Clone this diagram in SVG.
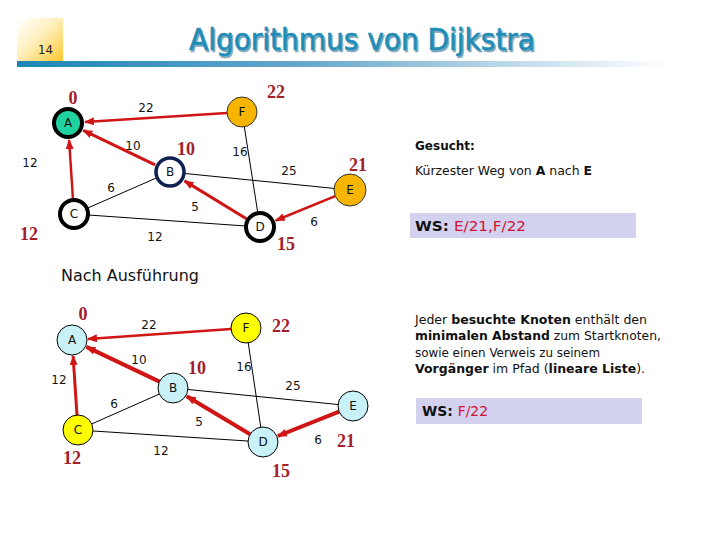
<svg xmlns="http://www.w3.org/2000/svg" width="720" height="540" viewBox="0 0 720 540">
<defs>
<linearGradient id="pg" x1="0" y1="0" x2="1" y2="1">
<stop offset="0" stop-color="#ffffff"/>
<stop offset="0.45" stop-color="#fff0c0"/>
<stop offset="1" stop-color="#ffc830"/>
</linearGradient>
<linearGradient id="bar" x1="0" y1="0" x2="1" y2="0">
<stop offset="0" stop-color="#1a86b4"/>
<stop offset="0.45" stop-color="#6aa8cc"/>
<stop offset="1" stop-color="#ffffff"/>
</linearGradient>
<marker id="ah" markerUnits="userSpaceOnUse" markerWidth="10" markerHeight="8" refX="9" refY="4" orient="auto">
<path d="M0,0 L10,4 L0,8 z" fill="#d01515"/>
</marker>
<style>
.ttl{font-family:"DejaVu Sans Condensed","DejaVu Sans",sans-serif;font-size:30px;fill:#1f8db8;stroke:#1f8db8;stroke-width:0.5}
.lbl{font-family:"DejaVu Sans",sans-serif;font-size:12px;fill:#111;text-anchor:middle}
.nl{font-family:"DejaVu Sans",sans-serif;font-size:12px;fill:#111;text-anchor:middle}
.dist{font-family:"Liberation Serif",serif;font-weight:bold;font-size:18px;fill:#a3202a;text-anchor:middle}
.txt{font-family:"DejaVu Sans",sans-serif;font-size:12px;fill:#111}
.b{font-weight:bold}
.red{fill:#d11034}
.blk{stroke:#000;stroke-width:1;fill:none}
.arr{stroke:#d01515;fill:none;marker-end:url(#ah)}
</style>
</defs>
<rect width="720" height="540" fill="#fff"/>
<rect x="17" y="18" width="46" height="43" fill="url(#pg)"/>
<text x="38" y="54" style="font-family:'DejaVu Sans Condensed','DejaVu Sans',sans-serif;font-size:13px;fill:#222">14</text>
<rect x="17" y="61" width="650" height="6" fill="url(#bar)"/>
<text class="ttl" x="190.5" y="51.5" textLength="346" lengthAdjust="spacingAndGlyphs" style="fill:#7fa9bb;stroke:#7fa9bb">Algorithmus von Dijkstra</text>
<text class="ttl" x="189" y="50" textLength="346" lengthAdjust="spacingAndGlyphs">Algorithmus von Dijkstra</text>

<g id="connectors">
<line class="blk" x1="242" y1="112" x2="260" y2="227"/>
<line class="blk" x1="170" y1="172" x2="350" y2="190"/>
<line class="blk" x1="74" y1="214" x2="170" y2="172"/>
<line class="blk" x1="74" y1="214" x2="260" y2="227"/>
<line class="arr" stroke-width="2.5" x1="227" y1="112.9" x2="85" y2="121.9"/>
<line class="arr" stroke-width="3" x1="155.1" y1="164.9" x2="83.3" y2="130.4"/>
<line class="arr" stroke-width="2.5" x1="72.9" y1="198" x2="69.1" y2="140"/>
<line class="arr" stroke-width="3" x1="246.4" y1="218.7" x2="184.5" y2="180.9"/>
<line class="arr" stroke-width="2.5" x1="335.2" y1="196.1" x2="275.7" y2="220.5"/>

<line class="blk" x1="246" y1="328" x2="263" y2="442"/>
<line class="blk" x1="173" y1="388" x2="353" y2="406"/>
<line class="blk" x1="78" y1="430" x2="173" y2="388"/>
<line class="blk" x1="78" y1="430" x2="263" y2="442"/>
<line class="arr" stroke-width="2.5" x1="231" y1="329" x2="88" y2="338.9"/>
<line class="arr" stroke-width="4" x1="159.5" y1="381.6" x2="86.4" y2="346.9"/>
<line class="arr" stroke-width="3" x1="77" y1="415" x2="73.1" y2="356"/>
<line class="arr" stroke-width="4" x1="250.1" y1="434.3" x2="186.7" y2="396.2"/>
<line class="arr" stroke-width="4" x1="339.1" y1="411.6" x2="277.9" y2="436"/>
</g>

<g id="edge-labels">
<text class="lbl" x="146" y="112">22</text>
<text class="lbl" x="133" y="150">10</text>
<text class="lbl" x="30" y="167">12</text>
<text class="lbl" x="240" y="156">16</text>
<text class="lbl" x="289" y="175">25</text>
<text class="lbl" x="111" y="192">6</text>
<text class="lbl" x="195" y="211">5</text>
<text class="lbl" x="155" y="241">12</text>
<text class="lbl" x="314" y="226">6</text>

<text class="lbl" x="149" y="329">22</text>
<text class="lbl" x="139" y="364">10</text>
<text class="lbl" x="59" y="384">12</text>
<text class="lbl" x="244" y="371">16</text>
<text class="lbl" x="293" y="390">25</text>
<text class="lbl" x="114" y="408">6</text>
<text class="lbl" x="199" y="426">5</text>
<text class="lbl" x="161" y="455">12</text>
<text class="lbl" x="318" y="444">6</text>
</g>

<g id="distances">
<text class="dist" x="73" y="104">0</text>
<text class="dist" x="276" y="98">22</text>
<text class="dist" x="186" y="155">10</text>
<text class="dist" x="358" y="171">21</text>
<text class="dist" x="29" y="240">12</text>
<text class="dist" x="286" y="250">15</text>

<text class="dist" x="83" y="320">0</text>
<text class="dist" x="281" y="332">22</text>
<text class="dist" x="197" y="374">10</text>
<text class="dist" x="72" y="464">12</text>
<text class="dist" x="346" y="447">21</text>
<text class="dist" x="281" y="477">15</text>
</g>

<g id="node-A1"><circle cx="68" cy="123" r="14" fill="#1fd3a1" stroke="#000" stroke-width="4"/><text class="nl" x="68" y="127">A</text></g>
<g id="node-F1"><circle cx="242" cy="112" r="15" fill="#f7b500" stroke="#333" stroke-width="1"/><text class="nl" x="242" y="116">F</text></g>
<g id="node-B1"><circle cx="170" cy="172" r="14" fill="#fff" stroke="#0d2050" stroke-width="3.5"/><text class="nl" x="170" y="176">B</text></g>
<g id="node-E1"><circle cx="350" cy="190" r="16" fill="#f7b500" stroke="#333" stroke-width="1"/><text class="nl" x="350" y="194">E</text></g>
<g id="node-C1"><circle cx="74" cy="214" r="14" fill="#fff" stroke="#000" stroke-width="4"/><text class="nl" x="74" y="218">C</text></g>
<g id="node-D1"><circle cx="260" cy="227" r="14" fill="#fff" stroke="#000" stroke-width="4"/><text class="nl" x="260" y="231">D</text></g>

<g id="node-A2"><circle cx="72" cy="340" r="15" fill="#c8f2f8" stroke="#000" stroke-width="1"/><text class="nl" x="72" y="344">A</text></g>
<g id="node-F2"><circle cx="246" cy="328" r="15" fill="#ffff00" stroke="#000" stroke-width="1"/><text class="nl" x="246" y="332">F</text></g>
<g id="node-B2"><circle cx="173" cy="388" r="15" fill="#c8f2f8" stroke="#000" stroke-width="1"/><text class="nl" x="173" y="392">B</text></g>
<g id="node-E2"><circle cx="353" cy="406" r="15" fill="#c8f2f8" stroke="#000" stroke-width="1"/><text class="nl" x="353" y="410">E</text></g>
<g id="node-C2"><circle cx="78" cy="430" r="15" fill="#ffff00" stroke="#000" stroke-width="1"/><text class="nl" x="78" y="434">C</text></g>
<g id="node-D2"><circle cx="263" cy="442" r="15" fill="#c8f2f8" stroke="#000" stroke-width="1"/><text class="nl" x="263" y="446">D</text></g>

<text x="61" y="281" style="font-family:'DejaVu Sans',sans-serif;font-size:16px;fill:#111" textLength="138" lengthAdjust="spacingAndGlyphs">Nach Ausführung</text>

<g id="info-top">
<text class="txt b" x="415" y="150">Gesucht:</text>
<text class="txt" x="415" y="175" textLength="177" lengthAdjust="spacingAndGlyphs">Kürzester Weg von <tspan class="b">A</tspan> nach <tspan class="b">E</tspan></text>
<rect x="410" y="213" width="226" height="25" fill="#d2d2ee"/>
<text class="txt" x="415" y="231" style="font-size:14px" textLength="111" lengthAdjust="spacingAndGlyphs"><tspan class="b">WS: </tspan><tspan class="red">E/21,F/22</tspan></text>
</g>

<g id="info-bottom">
<text class="txt" x="415" y="324" textLength="232" lengthAdjust="spacingAndGlyphs">Jeder <tspan class="b">besuchte Knoten</tspan> enthält den</text>
<text class="txt" x="415" y="340" textLength="246" lengthAdjust="spacingAndGlyphs"><tspan class="b">minimalen Abstand</tspan> zum Startknoten,</text>
<text class="txt" x="415" y="357" textLength="185" lengthAdjust="spacingAndGlyphs">sowie einen Verweis zu seinem</text>
<text class="txt" x="415" y="373" textLength="230" lengthAdjust="spacingAndGlyphs"><tspan class="b">Vorgänger</tspan> im Pfad (<tspan class="b">lineare Liste</tspan>).</text>
<rect x="416" y="398" width="226" height="26" fill="#d2d2ee"/>
<text class="txt" x="422" y="416" style="font-size:14px" textLength="66" lengthAdjust="spacingAndGlyphs"><tspan class="b">WS: </tspan><tspan class="red">F/22</tspan></text>
</g>
</svg>
